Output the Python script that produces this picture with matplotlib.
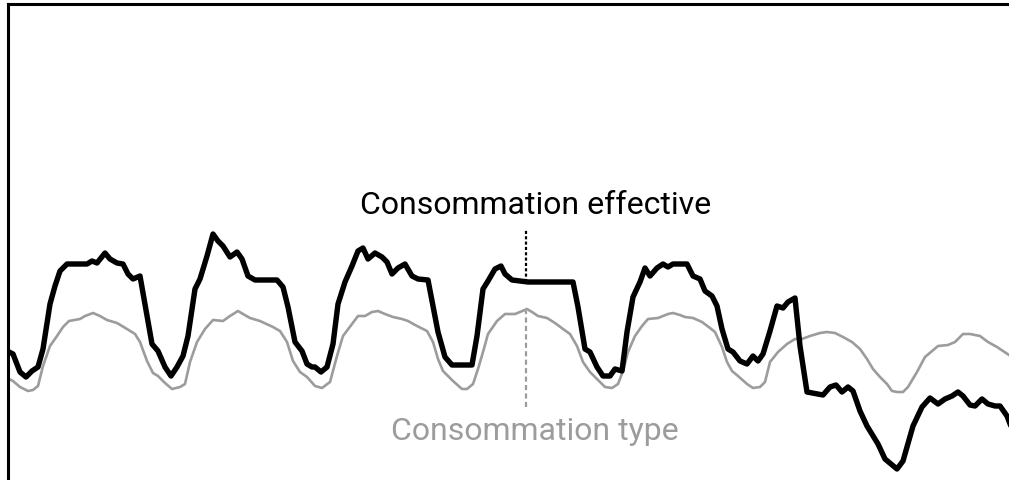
import matplotlib
matplotlib.use("Agg")
import matplotlib.pyplot as plt

plt.rcParams['font.family'] = ['Roboto', 'DejaVu Sans']

# pas de 10 minutes depuis le debut de la semaine
t_eff = [0, 6, 13, 19, 25, 31, 36, 43, 48, 53, 60, 80, 85, 90, 98, 103, 110, 116, 121, 126,
         133, 140, 145, 151, 158, 164, 170, 176, 181, 188, 193, 200, 206, 211, 216, 223, 230,
         235, 241, 248, 270, 276, 281, 288, 295, 300, 305, 308, 314, 320, 326, 331, 338, 345,
         351, 356, 361, 368, 375, 380, 385, 391, 398, 405, 411, 421, 426, 431, 438, 445, 465,
         470, 476, 481, 488, 494, 498, 505, 513, 521, 566, 571, 578, 583, 590, 596, 603, 608,
         615, 620, 626, 633, 638, 643, 650, 656, 661, 666, 680, 686, 693, 698, 705, 710, 715,
         721, 726, 733, 740, 746, 751, 756, 763, 770, 776, 781, 788, 793, 800, 816, 823, 829,
         835, 841, 846, 853, 860, 871, 878, 890, 896, 906, 915, 923, 931, 938, 945, 951, 956,
         963, 968, 975, 981, 988, 993, 1000, 1005]
# consommation effective (W)
p_eff = [3225, 3150, 2700, 2575, 2725, 2825, 3275, 4400, 4850, 5225, 5400, 5400, 5475, 5425,
         5675, 5525, 5425, 5400, 5150, 5025, 5100, 4100, 3400, 3225, 2825, 2600, 2825, 3100,
         3600, 4775, 5025, 5600, 6150, 5975, 5850, 5575, 5700, 5525, 5100, 5000, 5000, 4825,
         4325, 3450, 3225, 2900, 2825, 2825, 2700, 2825, 3400, 4400, 4950, 5350, 5725, 5800,
         5525, 5675, 5575, 5450, 5150, 5300, 5400, 5100, 5025, 5000, 4350, 3700, 3075, 2875,
         2875, 3600, 4775, 4975, 5275, 5350, 5150, 5000, 4975, 4950, 4950, 4325, 3275, 3200,
         2825, 2600, 2600, 2775, 2725, 3700, 4575, 4950, 5300, 5100, 5300, 5400, 5325, 5400,
         5400, 5100, 5025, 4725, 4600, 4350, 3775, 3275, 3200, 2975, 2900, 3100, 2975, 3150,
         3725, 4350, 4300, 4450, 4550, 3350, 2200, 2125, 2325, 2375, 2200, 2325, 2225, 1725,
         1350, 900, 525, 275, 475, 1350, 1825, 2050, 1900, 2025, 2100, 2200, 2100, 1875, 1850,
         2025, 1900, 1850, 1850, 1600, 1275]

t_type = [0, 6, 13, 21, 26, 31, 36, 43, 50, 56, 62, 73, 78, 86, 93, 100, 110, 120, 128, 133,
          140, 146, 151, 158, 165, 173, 178, 183, 190, 198, 206, 216, 223, 231, 236, 243, 253,
          266, 273, 280, 286, 293, 300, 308, 315, 323, 330, 336, 345, 351, 358, 365, 371, 378,
          386, 395, 401, 410, 420, 426, 431, 436, 441, 446, 455, 460, 466, 471, 476, 481, 490,
          498, 508, 513, 520, 525, 531, 540, 548, 556, 563, 570, 576, 583, 590, 598, 605, 611,
          616, 621, 628, 635, 641, 651, 656, 661, 666, 673, 678, 686, 695, 703, 708, 715, 720,
          725, 731, 740, 746, 753, 758, 763, 771, 780, 788, 795, 803, 813, 820, 828, 836, 845,
          853, 860, 866, 873, 880, 885, 890, 896, 901, 910, 918, 925, 931, 941, 948, 956, 963,
          973, 981, 990, 996, 1002]
# consommation type (W)
p_type = [2550, 2475, 2325, 2225, 2250, 2350, 2850, 3350, 3600, 3825, 3975, 4025, 4100, 4175,
          4100, 4000, 3925, 3775, 3650, 3450, 2975, 2675, 2600, 2425, 2275, 2325, 2400, 2950,
          3450, 3775, 4000, 3975, 4100, 4225, 4150, 4050, 3975, 3825, 3725, 3450, 2975, 2700,
          2575, 2350, 2300, 2450, 3100, 3600, 3900, 4100, 4100, 4200, 4225, 4150, 4075, 4025,
          3975, 3850, 3725, 3450, 3025, 2725, 2600, 2475, 2275, 2275, 2400, 2775, 3200, 3650,
          3975, 4150, 4150, 4200, 4275, 4200, 4100, 4050, 3925, 3775, 3650, 3350, 2950, 2700,
          2525, 2325, 2300, 2400, 2725, 3200, 3600, 3850, 4025, 4050, 4100, 4150, 4175, 4125,
          4075, 4050, 3950, 3800, 3700, 3325, 2950, 2725, 2600, 2400, 2300, 2325, 2450, 2950,
          3200, 3400, 3525, 3525, 3600, 3675, 3700, 3675, 3575, 3450, 3275, 3025, 2775, 2575,
          2400, 2225, 2200, 2200, 2325, 2700, 3075, 3225, 3350, 3375, 3450, 3650, 3650, 3600,
          3450, 3325, 3225, 3125]

t_repere = 519
label_eff = "Consommation effective"
label_type = "Consommation type"

fig = plt.figure(figsize=(10.09, 4.81), dpi=100)
ax = fig.add_axes([7.5 / 1009, 0, 1001.5 / 1009, 476.5 / 481])
ax.set_xlim(0.5, 1002)
ax.set_ylim(0, 11912.5)

gris = '#9c9c9c'
ax.plot(t_type, p_type, color=gris, lw=1.9, solid_joinstyle='round', zorder=2)
ax.plot(t_eff, p_eff, color='black', lw=3.9, solid_joinstyle='round', zorder=3)

# reperes verticaux
ax.plot([t_repere, t_repere], [4950, 6275], color='black', lw=1.6,
        linestyle=(0, (1.4, 1)), zorder=4)
ax.plot([t_repere, t_repere], [1825, 4225], color=gris, lw=1.6,
        linestyle=(0, (2.3, 1.5)), zorder=1)

ax.text(529, 6675, label_eff, ha='center', va='baseline', fontsize=23, color='black')
ax.text(528, 1025, label_type, ha='center', va='baseline', fontsize=23, color=gris)

for s in ['right', 'bottom']:
    ax.spines[s].set_visible(False)
for s in ['left', 'top']:
    ax.spines[s].set_linewidth(2.2)
ax.set_xticks([])
ax.set_yticks([])

fig.savefig('out.png', dpi=100)
